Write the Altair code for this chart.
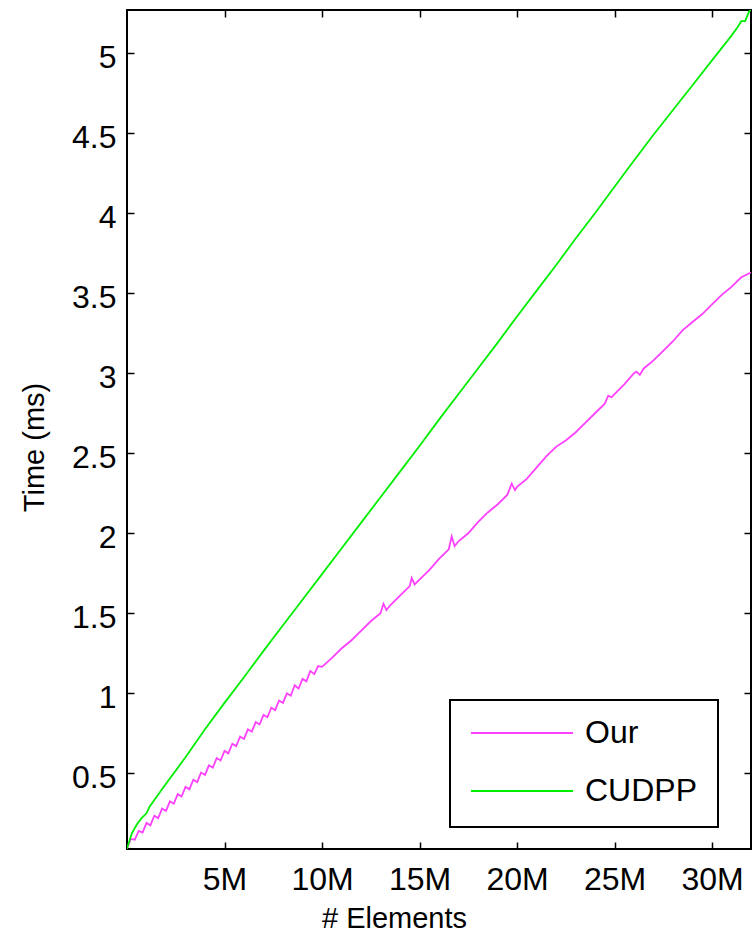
import altair as alt
import pandas as pd

FONT = "Liberation Sans"

series_names = ["Our", "CUDPP"]
series_colors = ["#ff40ff", "#00ee00"]

# x in millions of elements, t in ms
our_x = [0, 0.2, 0.4, 0.6, 0.8, 1.0, 1.2, 1.4, 1.6, 1.8, 2.0, 2.2, 2.4, 2.6, 2.8, 3.0,
         3.2, 3.4, 3.6, 3.8, 4.0, 4.2, 4.4, 4.6, 4.8, 5.0, 5.2, 5.4, 5.6, 5.8, 6.0,
         6.2, 6.4, 6.6, 6.8, 7.0, 7.2, 7.4, 7.6, 7.8, 8.0, 8.2, 8.4, 8.6, 8.8, 9.0,
         9.2, 9.4, 9.6, 9.8, 10.0, 10.5, 11, 11.5, 12, 12.5, 13, 13.15, 13.3, 13.5,
         14, 14.5, 14.6, 14.75, 15, 15.5, 16, 16.5, 16.65, 16.8, 17, 17.5, 18, 18.5,
         19, 19.5, 19.73, 19.9, 20, 20.5, 21, 21.5, 22, 22.5, 23, 23.5, 24, 24.5,
         24.68, 24.85, 25, 25.5, 26, 26.13, 26.3, 26.5, 27, 27.5, 28, 28.5, 29, 29.5,
         30, 30.5, 31, 31.5, 32]
our_t = [0.03, 0.09, 0.085, 0.14, 0.13, 0.19, 0.175, 0.235, 0.22, 0.28, 0.265, 0.325,
         0.31, 0.37, 0.355, 0.415, 0.40, 0.46, 0.445, 0.505, 0.49, 0.55, 0.535, 0.595,
         0.58, 0.64, 0.625, 0.685, 0.67, 0.73, 0.715, 0.775, 0.76, 0.82, 0.805, 0.865,
         0.85, 0.91, 0.895, 0.955, 0.94, 1.0, 0.985, 1.05, 1.03, 1.09, 1.075, 1.14,
         1.12, 1.17, 1.165, 1.22, 1.28, 1.33, 1.39, 1.45, 1.50, 1.56, 1.52, 1.55,
         1.61, 1.67, 1.72, 1.68, 1.71, 1.77, 1.84, 1.90, 1.98, 1.92, 1.95, 2.00, 2.07,
         2.13, 2.18, 2.24, 2.31, 2.27, 2.29, 2.34, 2.41, 2.48, 2.54, 2.58, 2.63, 2.69,
         2.75, 2.81, 2.86, 2.85, 2.87, 2.93, 3.00, 3.01, 2.99, 3.03, 3.08, 3.14, 3.20,
         3.27, 3.32, 3.37, 3.43, 3.49, 3.54, 3.60, 3.63]

cudpp_x = [0, 0.25, 0.5, 0.75, 1.0, 1.15, 1.5, 2, 3, 4, 5, 6, 7, 8, 9, 10, 11, 12, 13,
           14, 15, 16, 17, 18, 19, 20, 21, 22, 23, 24, 25, 26, 27, 28, 29, 30, 31,
           31.3, 31.5, 31.7, 31.9, 32]
cudpp_t = [0.03, 0.125, 0.18, 0.22, 0.25, 0.29, 0.35, 0.435, 0.60, 0.775, 0.94, 1.10,
           1.265, 1.425, 1.585, 1.745, 1.905, 2.065, 2.225, 2.385, 2.545, 2.71, 2.87,
           3.03, 3.19, 3.355, 3.515, 3.675, 3.84, 4.00, 4.165, 4.33, 4.49, 4.645, 4.80,
           4.955, 5.11, 5.16, 5.20, 5.20, 5.26, 5.27]

x_ticks = [5, 10, 15, 20, 25, 30]
y_ticks = [0.5, 1, 1.5, 2, 2.5, 3, 3.5, 4, 4.5, 5]

rows = []
for n, t in zip(our_x, our_t):
    rows.append({"series": "Our", "n": n, "t": t})
for n, t in zip(cudpp_x, cudpp_t):
    rows.append({"series": "CUDPP", "n": n, "t": t})
df = pd.DataFrame(rows)

xscale = alt.Scale(domain=[0, 32], nice=False, zero=False)
yscale = alt.Scale(domain=[0.027, 5.27], nice=False, zero=False)

TICK = 7

legend = alt.Legend(
    orient="none", legendX=323, legendY=690, title=None, direction="vertical",
    symbolType="stroke", symbolSize=10404, symbolStrokeWidth=1.8,
    labelFont=FONT, labelFontSize=32, labelColor="black", labelOffset=11,
    strokeColor="black", fillColor="white", padding=20, rowPadding=26,
    clipHeight=26, cornerRadius=0, offset=0,
)

main = alt.Chart(df).mark_line(strokeWidth=1.8, clip=True).encode(
    x=alt.X("n:Q", scale=xscale, axis=alt.Axis(
        orient="bottom", values=x_ticks, labelExpr="datum.value + 'M'",
        offset=-TICK, tickSize=TICK, tickWidth=1.5, tickColor="black", domain=False,
        grid=False, labelFont=FONT, labelFontSize=32, labelColor="black",
        labelPadding=15, title="# Elements", titleFont=FONT, titleFontSize=29,
        titleFontWeight="normal", titleColor="black", titleX=267, titleY=76,
        titleBaseline="middle", titleAlign="center")),
    y=alt.Y("t:Q", scale=yscale, axis=alt.Axis(
        orient="left", values=y_ticks, format="~g",
        offset=-TICK, tickSize=TICK, tickWidth=1.5, tickColor="black", domain=False,
        grid=False, labelFont=FONT, labelFontSize=32, labelColor="black",
        labelPadding=11, labelOffset=4, title="Time (ms)", titleFont=FONT,
        titleFontSize=29, titleFontWeight="normal", titleColor="black",
        titleX=-100, titleY=437, titleAngle=-90, titleBaseline="middle",
        titleAlign="center")),
    color=alt.Color("series:N", scale=alt.Scale(domain=series_names, range=series_colors),
                    legend=legend),
)

frame = alt.Chart(df).mark_line(strokeOpacity=0).encode(
    x=alt.X("n:Q", scale=xscale, axis=alt.Axis(
        orient="top", values=x_ticks, labels=False, offset=-TICK, tickSize=TICK,
        tickWidth=1.5, tickColor="black", domain=False, grid=False, title=None)),
    y=alt.Y("t:Q", scale=yscale, axis=alt.Axis(
        orient="right", values=y_ticks, labels=False, offset=-TICK, tickSize=TICK,
        tickWidth=1.5, tickColor="black", domain=False, grid=False, title=None)),
    detail="series:N",
)

chart = alt.layer(main, frame).resolve_axis(x="independent", y="independent").properties(
    width=624, height=839,
    padding={"left": 127, "top": 10, "right": 3, "bottom": 85},
    autosize=alt.AutoSizeParams(type="none"),
    background="white",
).configure_view(stroke="black", strokeWidth=2).configure_legend(strokeWidth=2)

chart.save("out.html", embed_options={"renderer": "svg", "actions": False})
